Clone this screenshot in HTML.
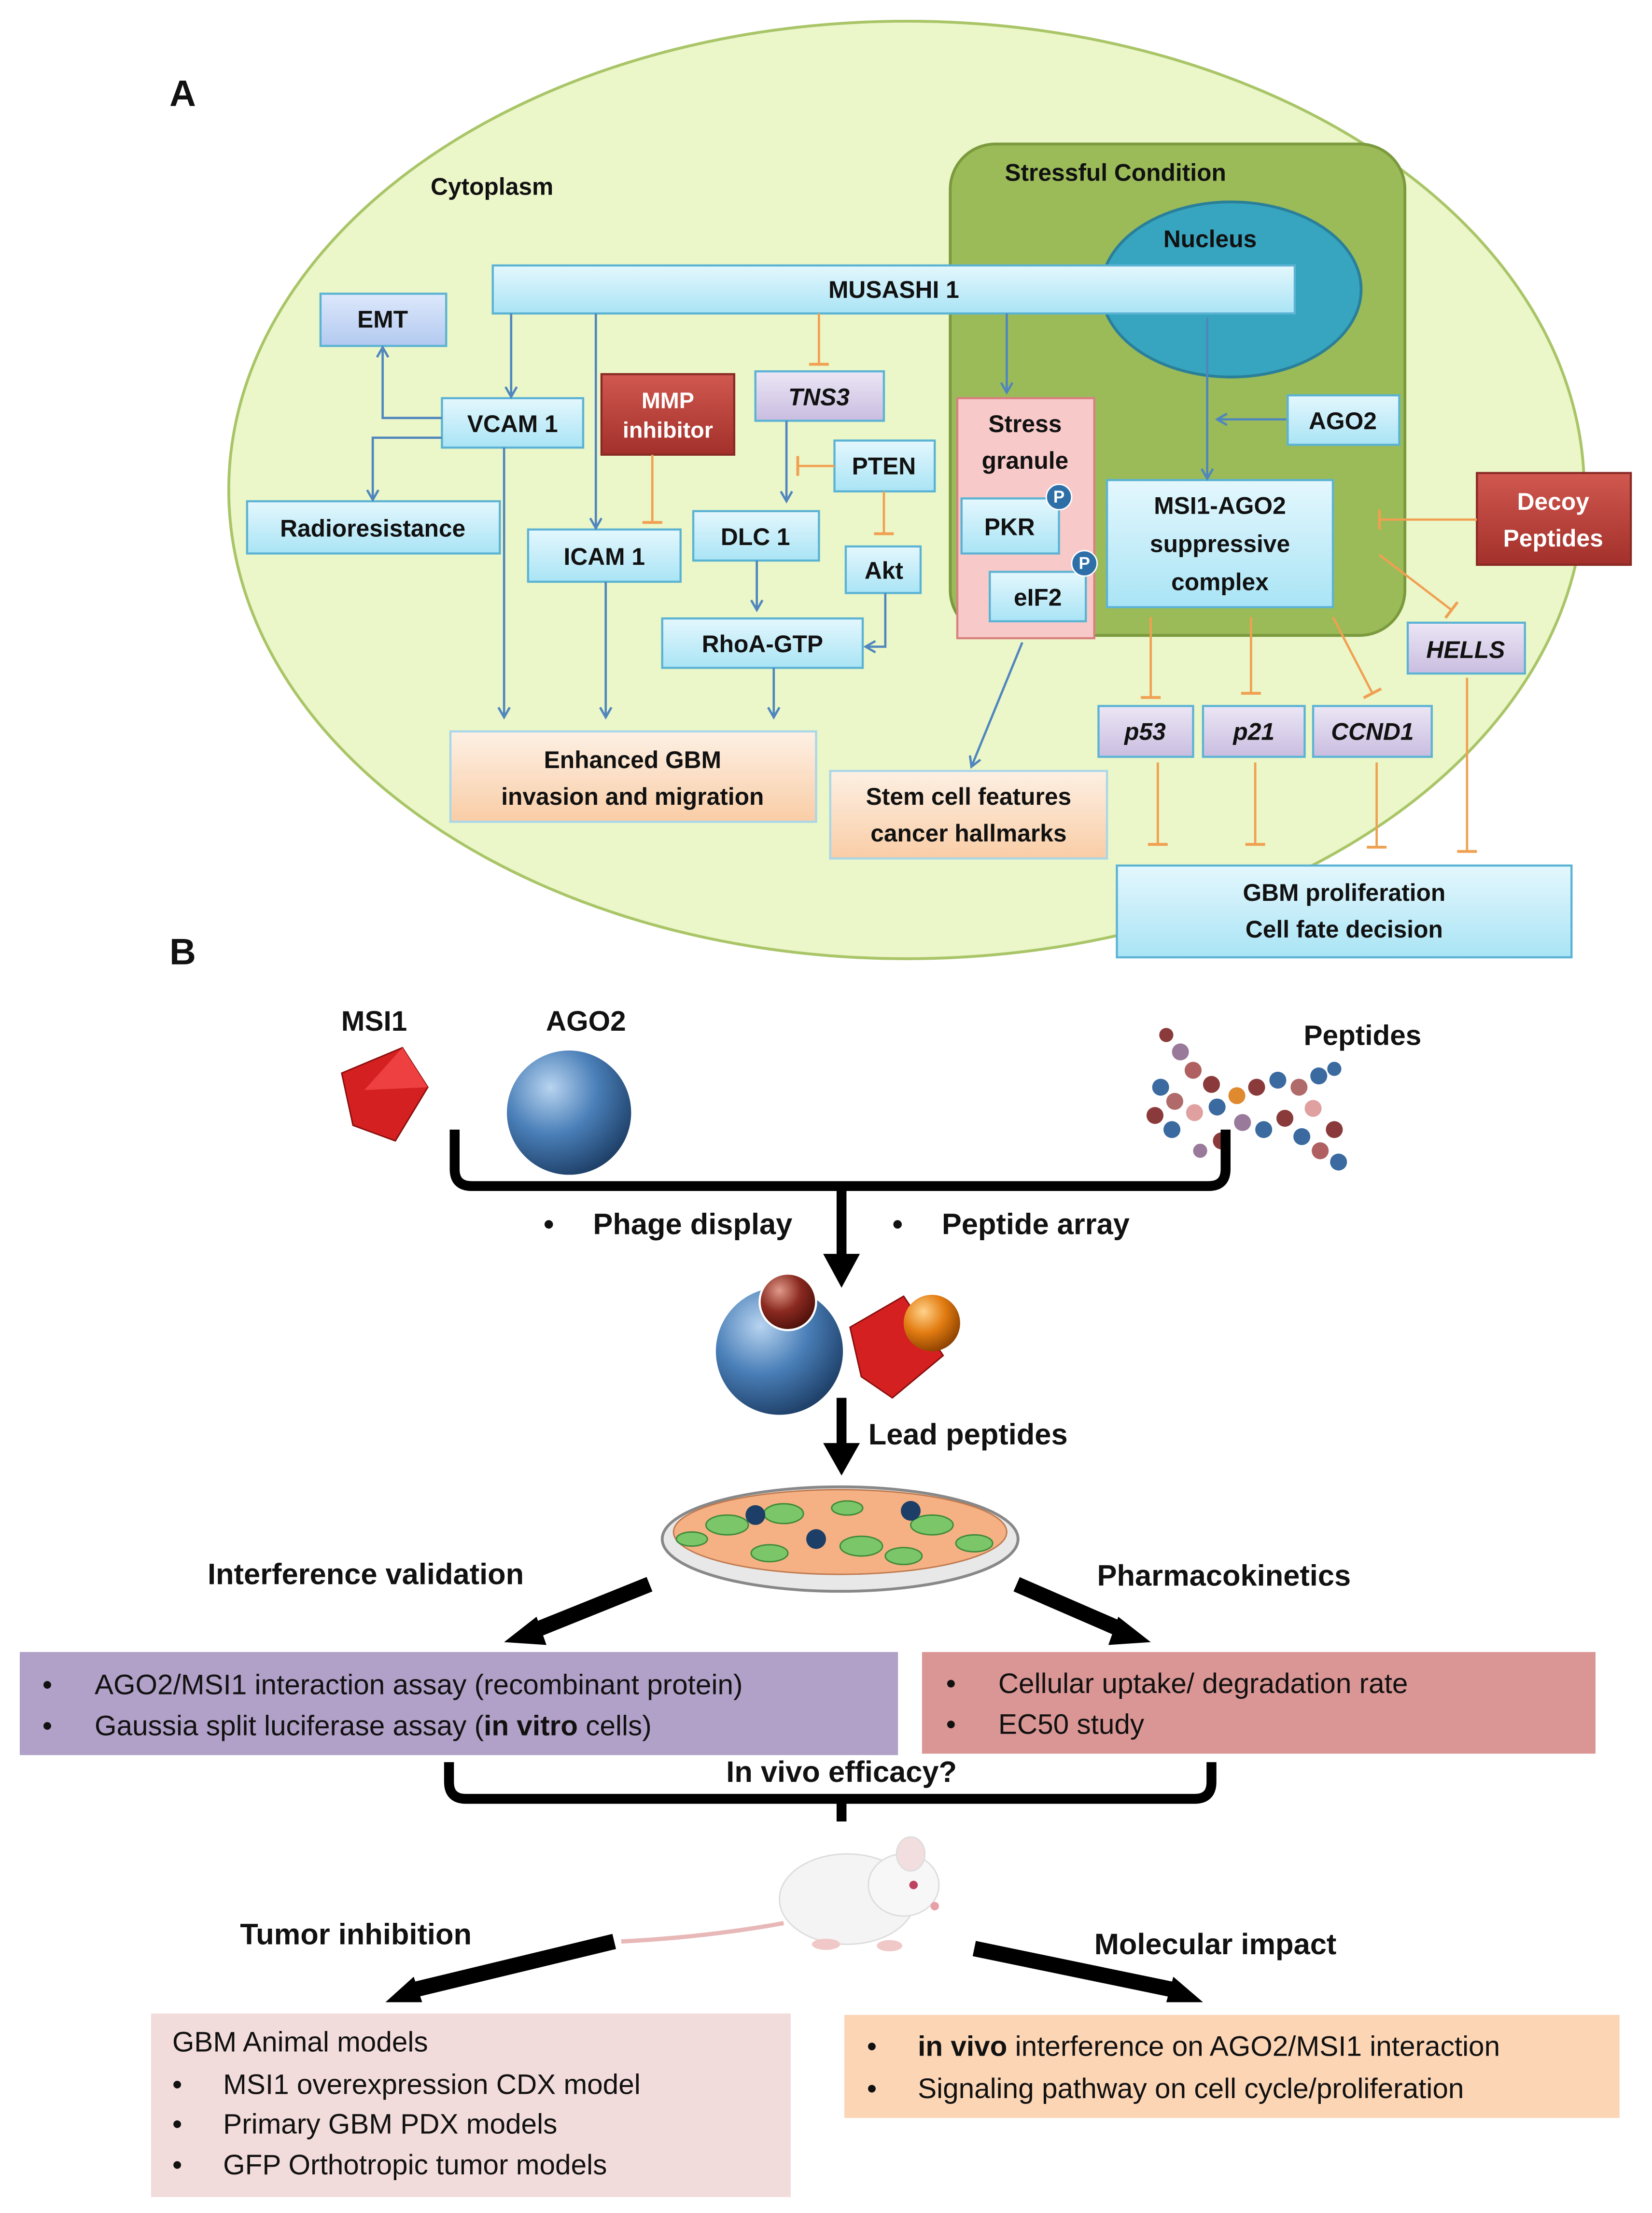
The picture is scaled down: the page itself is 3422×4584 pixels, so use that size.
<!DOCTYPE html>
<html><head><meta charset="utf-8"><style>
html,body{margin:0;padding:0;background:#fff}
svg{display:block}
text{font-family:"Liberation Sans",sans-serif}
</style></head><body>
<svg width="3422" height="4584" viewBox="0 0 1170 1567.3" xmlns="http://www.w3.org/2000/svg">
<defs>
<linearGradient id="cy" x1="0" y1="0" x2="0" y2="1"><stop offset="0" stop-color="#e4f7fd"/><stop offset="1" stop-color="#a9e4f5"/></linearGradient>
<linearGradient id="lv" x1="0" y1="0" x2="0" y2="1"><stop offset="0" stop-color="#ece6f5"/><stop offset="1" stop-color="#c9bde0"/></linearGradient>
<linearGradient id="bl" x1="0" y1="0" x2="0" y2="1"><stop offset="0" stop-color="#dde8fb"/><stop offset="1" stop-color="#b2c9f0"/></linearGradient>
<linearGradient id="rd" x1="0" y1="0" x2="0" y2="1"><stop offset="0" stop-color="#d0584f"/><stop offset="1" stop-color="#a3302b"/></linearGradient>
<linearGradient id="pc" x1="0" y1="0" x2="0" y2="1"><stop offset="0" stop-color="#fdf0e4"/><stop offset="1" stop-color="#f9cda6"/></linearGradient>
<radialGradient id="sph" cx="0.35" cy="0.3" r="0.75"><stop offset="0" stop-color="#b8d4f0"/><stop offset="0.5" stop-color="#4a7fb8"/><stop offset="1" stop-color="#1d3e66"/></radialGradient>
<radialGradient id="sr" cx="0.35" cy="0.3" r="0.75"><stop offset="0" stop-color="#e09a8a"/><stop offset="0.5" stop-color="#8b2a20"/><stop offset="1" stop-color="#4a0f0a"/></radialGradient>
<radialGradient id="so" cx="0.35" cy="0.3" r="0.75"><stop offset="0" stop-color="#ffd28a"/><stop offset="0.5" stop-color="#e37d12"/><stop offset="1" stop-color="#8a4000"/></radialGradient>
<marker id="ab" markerWidth="10" markerHeight="10" refX="8" refY="5" orient="auto" markerUnits="userSpaceOnUse"><path d="M1,1 L8,5 L1,9" fill="none" stroke="#4f86bd" stroke-width="1.6"/></marker>
<marker id="tb" markerWidth="4" markerHeight="16" refX="2" refY="8" orient="auto" markerUnits="userSpaceOnUse"><path d="M2,1 L2,15" stroke="#f0a050" stroke-width="2"/></marker>
</defs>
<g font-weight="bold" fill="#111">
<text x="120" y="75" font-size="26">A</text>
<ellipse cx="642" cy="347" rx="480" ry="332" fill="#ebf6c9" stroke="#a9c567" stroke-width="2"/>
<text x="305" y="138" font-size="17">Cytoplasm</text>
<rect x="673" y="102" width="322" height="348" rx="32" fill="#9bbb59" stroke="#7a9a3d" stroke-width="2"/>
<text x="790" y="128" font-size="17" text-anchor="middle">Stressful Condition</text>
<ellipse cx="872" cy="205" rx="92" ry="62" fill="#37a5c0" stroke="#2a7f99" stroke-width="2"/>
<text x="857" y="175" font-size="17" text-anchor="middle">Nucleus</text>
</g>
<g stroke="#5bb3d4" stroke-width="1.5" font-weight="bold" font-size="17" fill="#111">
<rect x="349" y="188" width="568" height="34" fill="url(#cy)"/>
<rect x="227" y="208" width="89" height="37" fill="url(#bl)"/>
<rect x="313" y="282" width="100" height="35" fill="url(#cy)"/>
<rect x="426" y="265" width="94" height="57" fill="url(#rd)" stroke="#8a2a25"/>
<rect x="535" y="263" width="91" height="35" fill="url(#lv)"/>
<rect x="591" y="312" width="71" height="36" fill="url(#cy)"/>
<rect x="678" y="282" width="97" height="170" fill="#f8c9c9" stroke="#d98080"/>
<rect x="681" y="353" width="69" height="39" fill="url(#cy)"/>
<rect x="701" y="405" width="68" height="35" fill="url(#cy)"/>
<rect x="912" y="280" width="79" height="35" fill="url(#cy)"/>
<rect x="784" y="340" width="160" height="90" fill="url(#cy)"/>
<rect x="1046" y="335" width="109" height="65" fill="url(#rd)" stroke="#8a2a25"/>
<rect x="175" y="355" width="179" height="37" fill="url(#cy)"/>
<rect x="374" y="375" width="108" height="37" fill="url(#cy)"/>
<rect x="491" y="362" width="89" height="35" fill="url(#cy)"/>
<rect x="599" y="387" width="53" height="33" fill="url(#cy)"/>
<rect x="469" y="438" width="142" height="35" fill="url(#cy)"/>
<rect x="997" y="441" width="83" height="36" fill="url(#lv)"/>
<rect x="778" y="500" width="67" height="36" fill="url(#lv)"/>
<rect x="852" y="500" width="72" height="36" fill="url(#lv)"/>
<rect x="930" y="500" width="84" height="36" fill="url(#lv)"/>
<rect x="319" y="518" width="259" height="64" fill="url(#pc)" stroke="#a9d6e8"/>
<rect x="588" y="546" width="196" height="62" fill="url(#pc)" stroke="#a9d6e8"/>
<rect x="791" y="613" width="322" height="65" fill="url(#cy)"/>
</g>
<g fill="#2e6fa8" stroke="#fff" stroke-width="1"><circle cx="750" cy="352" r="9"/><circle cx="768" cy="399" r="9"/></g>
<g fill="#fff" font-size="12" font-weight="bold" text-anchor="middle"><text x="750" y="356">P</text><text x="768" y="403">P</text></g>
<g font-weight="bold" font-size="17" fill="#111" text-anchor="middle">
<text x="633" y="211">MUSASHI 1</text>
<text x="271" y="232">EMT</text>
<text x="363" y="306">VCAM 1</text>
<text x="473" y="289" fill="#fff" font-size="16">MMP</text>
<text x="473" y="310" fill="#fff" font-size="16">inhibitor</text>
<text x="580" y="287" font-style="italic">TNS3</text>
<text x="626" y="336">PTEN</text>
<text x="726" y="306">Stress</text>
<text x="726" y="332">granule</text>
<text x="715" y="379">PKR</text>
<text x="735" y="429">eIF2</text>
<text x="951" y="304">AGO2</text>
<text x="864" y="364">MSI1-AGO2</text>
<text x="864" y="391">suppressive</text>
<text x="864" y="418">complex</text>
<text x="1100" y="361" fill="#fff">Decoy</text>
<text x="1100" y="387" fill="#fff">Peptides</text>
<text x="264" y="380">Radioresistance</text>
<text x="428" y="400">ICAM 1</text>
<text x="535" y="386">DLC 1</text>
<text x="626" y="410">Akt</text>
<text x="540" y="462">RhoA-GTP</text>
<text x="1038" y="466" font-style="italic">HELLS</text>
<text x="811" y="524" font-style="italic">p53</text>
<text x="888" y="524" font-style="italic">p21</text>
<text x="972" y="524" font-style="italic">CCND1</text>
<text x="448" y="544">Enhanced GBM</text>
<text x="448" y="570">invasion and migration</text>
<text x="686" y="570">Stem cell features</text>
<text x="686" y="596">cancer hallmarks</text>
<text x="952" y="638">GBM proliferation</text>
<text x="952" y="664">Cell fate decision</text>
</g>
<g fill="none" stroke="#4f86bd" stroke-width="1.6" marker-end="url(#ab)">
<path d="M362,222 V281"/>
<path d="M422,222 V374"/>
<path d="M313,296 H271 V246"/>
<path d="M313,310 H264 V354"/>
<path d="M357,317 V508"/>
<path d="M429,412 V508"/>
<path d="M557,298 V355"/>
<path d="M536,397 V432"/>
<path d="M627,420 V458 H613"/>
<path d="M548,473 V508"/>
<path d="M713,222 V278"/>
<path d="M855,225 V339"/>
<path d="M911,297 H862"/>
<path d="M724,455 L688,543"/>
</g>
<g fill="none" stroke="#f0a050" stroke-width="1.6" marker-end="url(#tb)">
<path d="M580,222 V258"/>
<path d="M591,330 H565"/>
<path d="M626,348 V378"/>
<path d="M462,322 V370"/>
<path d="M1046,368 H977"/>
<path d="M977,393 L1028,432"/>
<path d="M815,437 V494"/>
<path d="M886,437 V491"/>
<path d="M944,437 L972,491"/>
<path d="M820,540 V598"/>
<path d="M889,540 V598"/>
<path d="M975,540 V600"/>
<path d="M1039,480 V603"/>
</g>
<!-- Panel B -->
<g font-weight="bold" fill="#111">
<text x="120" y="683" font-size="26">B</text>
<text x="265" y="730" font-size="20" text-anchor="middle">MSI1</text>
<text x="415" y="730" font-size="20" text-anchor="middle">AGO2</text>
<text x="965" y="740" font-size="20" text-anchor="middle">Peptides</text>
</g>
<polygon points="242,760 285,742 303,770 280,808 250,797" fill="#d42020" stroke="#8a0e0e"/>
<polygon points="258,772 285,742 303,770" fill="#ee4040"/>
<circle cx="403" cy="788" r="44" fill="url(#sph)"/>
<g>
<circle cx="826" cy="733" r="5" fill="#8a3a3a"/><circle cx="836" cy="745" r="6" fill="#9a7a9a"/><circle cx="845" cy="758" r="6" fill="#b06060"/><circle cx="858" cy="768" r="6" fill="#8a3a3a"/>
<circle cx="822" cy="770" r="6" fill="#3a6aa0"/><circle cx="832" cy="780" r="6" fill="#b06a6a"/><circle cx="818" cy="790" r="6" fill="#8a3a3a"/><circle cx="830" cy="800" r="6" fill="#3a6aa0"/>
<circle cx="846" cy="788" r="6" fill="#e0a0a0"/><circle cx="862" cy="784" r="6" fill="#3a6aa0"/><circle cx="876" cy="776" r="6" fill="#e08a30"/><circle cx="890" cy="770" r="6" fill="#8a3a3a"/>
<circle cx="905" cy="765" r="6" fill="#3a6aa0"/><circle cx="920" cy="770" r="6" fill="#b06a6a"/><circle cx="934" cy="762" r="6" fill="#3a6aa0"/><circle cx="945" cy="757" r="5" fill="#3a6aa0"/>
<circle cx="880" cy="795" r="6" fill="#9a7a9a"/><circle cx="895" cy="800" r="6" fill="#3a6aa0"/><circle cx="910" cy="792" r="6" fill="#8a3a3a"/><circle cx="922" cy="805" r="6" fill="#3a6aa0"/>
<circle cx="935" cy="815" r="6" fill="#b06060"/><circle cx="948" cy="823" r="6" fill="#3a6aa0"/><circle cx="945" cy="800" r="6" fill="#8a3a3a"/><circle cx="930" cy="785" r="6" fill="#e0a0a0"/>
<circle cx="865" cy="808" r="6" fill="#8a3a3a"/><circle cx="850" cy="815" r="5" fill="#9a7a9a"/>
</g>
<g fill="none" stroke="#000" stroke-width="7">
<path d="M322,800 V828 Q322,840 334,840 H856 Q868,840 868,828 V800"/>
<path d="M596,840 V890"/>
<path d="M596,990 V1025"/>
<path d="M318,1248 V1262 Q318,1274 330,1274 H846 Q858,1274 858,1262 V1248"/>
<path d="M596,1274 V1290"/>
</g>
<g fill="#000">
<polygon points="583,888 609,888 596,912"/>
<polygon points="583,1022 609,1022 596,1045"/>
<polygon points="357,1163 380,1145 387,1165"/>
<polygon points="815,1163 792,1145 785,1165"/>
<polygon points="273,1418 293,1400 299,1418"/>
<polygon points="852,1418 831,1400 826,1418"/>
</g>
<g stroke="#000" stroke-width="11">
<line x1="460" y1="1122" x2="378" y2="1155"/>
<line x1="720" y1="1122" x2="796" y2="1155"/>
<line x1="435" y1="1375" x2="290" y2="1410"/>
<line x1="690" y1="1380" x2="835" y2="1410"/>
</g>
<g font-weight="bold" font-size="21" fill="#111">
<text x="385" y="874">•</text><text x="420" y="874">Phage display</text>
<text x="632" y="874">•</text><text x="667" y="874">Peptide array</text>
<text x="615" y="1023">Lead peptides</text>
<text x="147" y="1122">Interference validation</text>
<text x="777" y="1123">Pharmacokinetics</text>
<text x="596" y="1262" text-anchor="middle">In vivo efficacy?</text>
<text x="170" y="1377">Tumor inhibition</text>
<text x="775" y="1384">Molecular impact</text>
</g>
<circle cx="552" cy="957" r="45" fill="url(#sph)"/>
<circle cx="558" cy="922" r="20" fill="url(#sr)" stroke="#fff" stroke-width="1.5"/>
<polygon points="602,940 640,918 668,960 632,990 610,975" fill="#d42020" stroke="#8a0e0e"/>
<circle cx="660" cy="937" r="20" fill="url(#so)"/>
<ellipse cx="595" cy="1090" rx="126" ry="37" fill="#e8e8e8" stroke="#888" stroke-width="2"/>
<ellipse cx="595" cy="1085" rx="118" ry="30" fill="#f5b183" stroke="#c07a50"/>
<g fill="#7cc66a" stroke="#3f8a3a">
<ellipse cx="515" cy="1080" rx="15" ry="7"/><ellipse cx="555" cy="1072" rx="14" ry="7"/><ellipse cx="610" cy="1095" rx="15" ry="7"/><ellipse cx="660" cy="1080" rx="15" ry="7"/><ellipse cx="690" cy="1093" rx="13" ry="6"/><ellipse cx="545" cy="1100" rx="13" ry="6"/><ellipse cx="640" cy="1102" rx="13" ry="6"/><ellipse cx="490" cy="1090" rx="11" ry="5"/><ellipse cx="600" cy="1068" rx="11" ry="5"/>
</g>
<g fill="#1d3e66"><circle cx="535" cy="1073" r="7"/><circle cx="645" cy="1070" r="7"/><circle cx="578" cy="1090" r="7"/></g>
<rect x="14" y="1170" width="622" height="73" fill="#b1a0c7"/>
<rect x="653" y="1170" width="477" height="72" fill="#da9694"/>
<rect x="107" y="1426" width="453" height="130" fill="#f2dcdb"/>
<rect x="598" y="1427" width="549" height="73" fill="#fcd5b5"/>
<g font-size="20" fill="#111">
<text x="30" y="1200">•</text><text x="67" y="1200">AGO2/MSI1 interaction assay (recombinant protein)</text>
<text x="30" y="1229">•</text><text x="67" y="1229">Gaussia split luciferase assay (<tspan font-weight="bold">in vitro</tspan> cells)</text>
<text x="670" y="1199">•</text><text x="707" y="1199">Cellular uptake/ degradation rate</text>
<text x="670" y="1228">•</text><text x="707" y="1228">EC50 study</text>
<text x="122" y="1453">GBM Animal models</text>
<text x="122" y="1483">•</text><text x="158" y="1483">MSI1 overexpression CDX model</text>
<text x="122" y="1511">•</text><text x="158" y="1511">Primary GBM PDX models</text>
<text x="122" y="1540">•</text><text x="158" y="1540">GFP Orthotropic tumor models</text>
<text x="614" y="1456">•</text><text x="650" y="1456"><tspan font-weight="bold">in vivo</tspan> interference on AGO2/MSI1 interaction</text>
<text x="614" y="1486">•</text><text x="650" y="1486">Signaling pathway on cell cycle/proliferation</text>
</g>
<!-- mouse -->
<path d="M440,1375 Q500,1372 555,1362" fill="none" stroke="#e8b8b8" stroke-width="3"/>
<ellipse cx="600" cy="1345" rx="48" ry="32" fill="#f4f4f4" stroke="#ddd"/>
<ellipse cx="640" cy="1335" rx="25" ry="22" fill="#f7f7f7" stroke="#ddd"/>
<ellipse cx="645" cy="1313" rx="10" ry="12" fill="#f2dede" stroke="#ddd"/>
<circle cx="647" cy="1335" r="3" fill="#c04060"/>
<circle cx="662" cy="1350" r="3" fill="#e8a0a8"/>
<ellipse cx="585" cy="1377" rx="10" ry="4" fill="#f0c8c8"/>
<ellipse cx="630" cy="1378" rx="9" ry="4" fill="#f0c8c8"/>
</svg>
</body></html>
